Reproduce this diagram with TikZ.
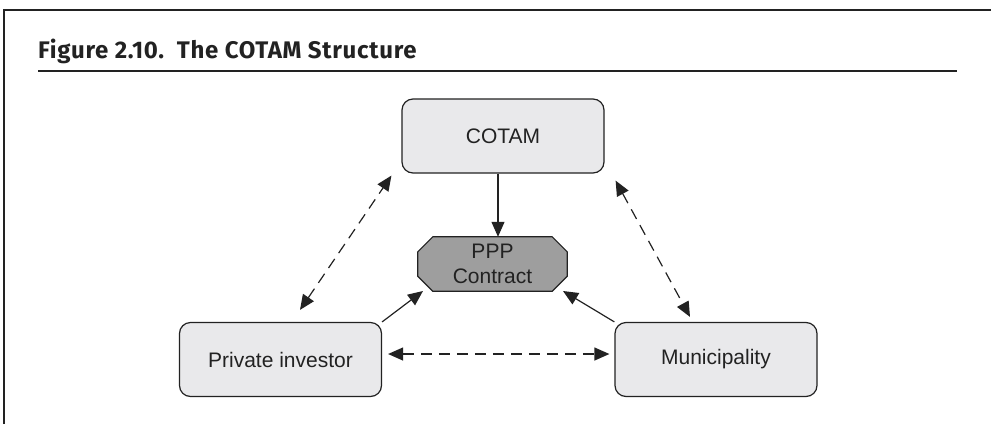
\documentclass[tikz,border=0pt]{standalone}
\usepackage{fontspec}
\setmainfont{Liberation Sans}
\newfontfamily\titlefont[LetterSpace=3]{Fira Sans}
\usetikzlibrary{arrows.meta}
\definecolor{boxfill}{HTML}{E9E9EB}
\definecolor{pppfill}{HTML}{9E9E9E}
\definecolor{ink}{HTML}{222222}
\tikzset{
  rbox/.style={draw=ink, line width=1.2pt, fill=boxfill, rounded corners=11pt,
    minimum width=202pt, minimum height=74pt, inner sep=0pt, text=ink,
    font=\fontsize{21}{25}\selectfont},
  pppbox/.style={minimum width=149pt, minimum height=54pt, inner sep=0pt, text=ink, align=center,
    font=\fontsize{21}{25}\selectfont},
  solidarr/.style={draw=ink, line width=1.2pt, -{Triangle[length=15pt,width=13pt]}},
  dasharr/.style={draw=ink, line width=1.2pt, {Triangle[length=15pt,width=13pt]}-{Triangle[length=15pt,width=13pt]},
    dash pattern=on 11pt off 7pt},
}
\begin{document}
\begin{tikzpicture}[x=1pt,y=-1pt]
\useasboundingbox (0,0) rectangle (991,424);
% frame
\draw[ink, line width=2.2pt] (4,424) -- (4,10) -- (991,10);
% title
\node[anchor=base west, inner sep=0pt, text=ink, font=\titlefont\bfseries\fontsize{24}{28}\selectfont] (title) at (38,58) {Figure 2.10.\ \ The COTAM Structure};
\draw[ink, line width=1.3pt] (38,71) -- (957,71);
% nodes
\node[rbox] (cotam) at (503,136) {COTAM};
\node[pppbox] (ppp) at (492.5,264) {};
\fill[pppfill, draw=ink, line width=1.2pt]
  ([xshift=15pt]ppp.north west) -- ([xshift=-15pt]ppp.north east) --
  ([yshift=-15pt]ppp.north east) -- ([yshift=15pt]ppp.south east) --
  ([xshift=-15pt]ppp.south east) -- ([xshift=15pt]ppp.south west) --
  ([yshift=15pt]ppp.south west) -- ([yshift=-15pt]ppp.north west) -- cycle;
\node[pppbox] (ppptext) at (ppp.center) {PPP\\Contract};
\node[rbox] (pi) at (280.5,359.5) {Private investor};
\node[rbox] (mun) at (716,359.5) {Municipality};
% connectors
\draw[solidarr] ([xshift=-5pt]cotam.south) -- ([xshift=-5pt]cotam.south |- ppp.north);
\draw[solidarr] (pi.north east) -- ([shift={(-69.5,27)}]ppp.center);
\draw[solidarr] (mun.north west) -- ([shift={(70.5,27)}]ppp.center);
\draw[dasharr] ([shift={(19.5,-12)}]pi.north) -- ([shift={(-10,2)}]cotam.south west);
\draw[dasharr] ([shift={(11,7)}]cotam.south east) -- ([shift={(-26,-5)}]mun.north);
\draw[dasharr] ([shift={(6,-5.5)}]pi.east) -- ([shift={(-5,-5.5)}]mun.west);
\end{tikzpicture}
\end{document}
